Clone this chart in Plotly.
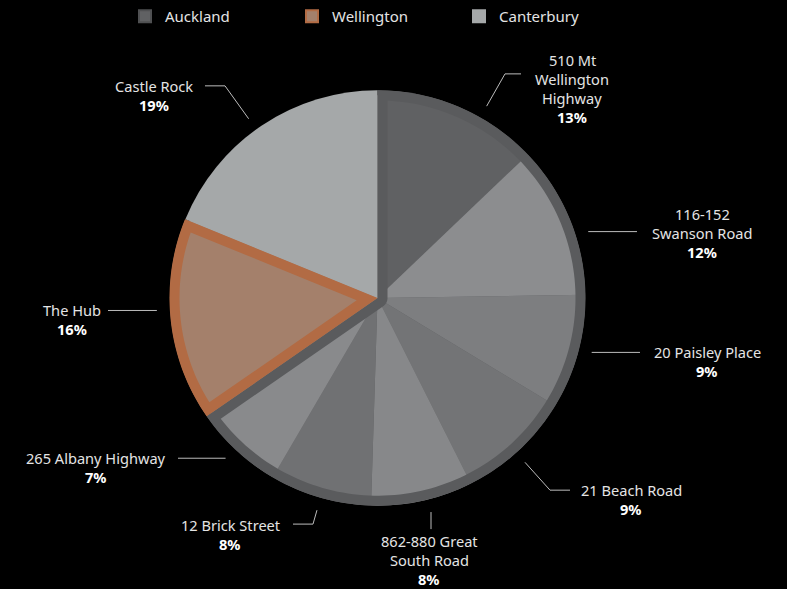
import math
import plotly.graph_objects as go

# ---------------- data ----------------
sites = [
    "510 Mt Wellington Highway", "116-152 Swanson Road", "20 Paisley Place",
    "21 Beach Road", "862-880 Great South Road", "12 Brick Street",
    "265 Albany Highway", "The Hub", "Castle Rock",
]
site_text = [
    "510 Mt<br>Wellington<br>Highway", "116-152<br>Swanson Road", "20 Paisley Place",
    "21 Beach Road", "862-880 Great<br>South Road", "12 Brick Street",
    "265 Albany Highway", "The Hub", "Castle Rock",
]
shares = [13, 12, 9, 9, 8, 8, 7, 16, 19]
site_region = ["Auckland"] * 7 + ["Wellington", "Canterbury"]
regions = ["Auckland", "Wellington", "Canterbury"]

# ---------------- styling ----------------
W, H = 787, 589
CX, CY, R = 377.5, 297.5, 208.0   # pie centre and radius (px)
RIM = 10.0                        # width of the region outline drawn inside the pie
LEADER_R = R + 13                 # where leader lines begin
LABEL_SIZE = 14.6
LINE_H = 19.0                     # label line spacing (px)

slice_colors = ["#606163", "#8c8d8f", "#7d7e80", "#737476", "#87888a",
                "#707173", "#898a8c", "#a4806b", "#a5a8a9"]
region_fill = {"Auckland": "#606163", "Wellington": "#a4806b", "Canterbury": "#a5a8a9"}
region_edge = {"Auckland": "#5a5b5d", "Wellington": "#b26b44", "Canterbury": "#a5a8a9"}
legend_edge = {"Auckland": "#4f5052", "Wellington": "#b26b44", "Canterbury": "#a5a8a9"}
TEXT = "#e4e4e4"
LEADER = "#bcbcbc"
FONT = "Noto Sans"

# label placement: block centre, leader kind and anchor points (px)
label_pos = [
    (572, 87.5), (702, 232.5), (707, 361), (631, 499), (429.5, 560),
    (230.5, 534.5), (95.5, 467), (71.5, 319.5), (154, 94.5),
]
leader_kind = ["elbow", "h", "h", "elbow", "v", "elbow", "h", "h", "elbow"]
leader_end = [(521, 73), (637, 231), (640, 352), (570, 490), (431, 529),
              (293, 524), (178, 458), (108, 310), (205, 85)]
leader_elbow = [(505, 73), None, None, (550, 490), None,
                (313, 524), None, None, (225, 85)]


def px(x, y):
    """pixel -> paper coordinates"""
    return x / W, 1 - y / H


def unit(theta):
    t = math.radians(theta)
    return math.sin(t), -math.cos(t)


def path_str(pts):
    parts = []
    for i, (x, y) in enumerate(pts):
        a, b = px(x, y)
        parts.append(("M" if i == 0 else "L") + f"{a:.5f},{b:.5f}")
    return " ".join(parts) + " Z"


def arc(r, t0, t1, ox=CX, oy=CY, n=None):
    n = n or max(4, int(abs(t1 - t0) / 1.5))
    out = []
    for k in range(n + 1):
        t = t0 + (t1 - t0) * k / n
        ux, uy = unit(t)
        out.append((ox + r * ux, oy + r * uy))
    return out


def inner_outline(t0, t1):
    """region of the sector [t0, t1] lying within RIM of its edge"""
    outer = [(CX, CY)] + arc(R, t0, t1)
    span = t1 - t0
    r_in = R - RIM
    u0, u1 = unit(t0), unit(t1)
    if span < 180:
        d = RIM / math.sin(math.radians(span / 2))
        mx, my = unit((t0 + t1) / 2)
        ax, ay = CX + d * mx, CY + d * my

        def hit(ux, uy):
            bx, by = ax - CX, ay - CY
            pb = bx * ux + by * uy
            t = -pb + math.sqrt(pb * pb - (bx * bx + by * by - r_in * r_in))
            return ax + t * ux, ay + t * uy

        p0, p1 = hit(*u0), hit(*u1)
        a0 = math.degrees(math.atan2(p0[0] - CX, -(p0[1] - CY)))
        a1 = math.degrees(math.atan2(p1[0] - CX, -(p1[1] - CY)))
        if a1 < a0:
            a1 += 360
        inner = [(ax, ay)] + arc(r_in, a0, a1)
    else:
        n0, n1 = unit(t0 + 90), unit(t1 - 90)
        te = math.sqrt(r_in ** 2 - RIM ** 2)
        s0 = (CX + RIM * n0[0], CY + RIM * n0[1])
        e0 = (s0[0] + te * u0[0], s0[1] + te * u0[1])
        s1 = (CX + RIM * n1[0], CY + RIM * n1[1])
        e1 = (s1[0] + te * u1[0], s1[1] + te * u1[1])
        a0 = t0 + math.degrees(math.atan2(RIM, te))
        a1 = t1 - math.degrees(math.atan2(RIM, te))
        inner = [s0, e0] + arc(r_in, a0, a1)[1:-1] + [e1, s1] + arc(RIM, t1 - 90, t0 + 90)[1:-1]
    return path_str(outer) + " " + path_str(inner)


total = sum(shares)
cum = [0]
for v in shares:
    cum.append(cum[-1] + v)
angles = [360 * c / total for c in cum]

dom_x = [(CX - R) / W, (CX + R) / W]
dom_y = [1 - (CY + R) / H, 1 - (CY - R) / H]

region_values = [sum(v for v, g in zip(shares, site_region) if g == r) for r in regions]

fig = go.Figure()

# legend entries (drawn underneath and hidden by the slices)
fig.add_trace(go.Pie(
    labels=regions, values=region_values, sort=False, direction="clockwise",
    domain=dict(x=[(CX - R + 6) / W, (CX + R - 6) / W], y=[1 - (CY + R - 6) / H, 1 - (CY - R + 6) / H]),
    marker=dict(colors=[region_fill[r] for r in regions],
                line=dict(color=[legend_edge[r] for r in regions], width=2)),
    textinfo="none", hoverinfo="skip", showlegend=True,
))

# the sites
fig.add_trace(go.Pie(
    labels=sites, values=shares, sort=False, direction="clockwise", rotation=0,
    domain=dict(x=dom_x, y=dom_y),
    marker=dict(colors=slice_colors, line=dict(width=0)),
    textinfo="none", hoverinfo="label+value", showlegend=False,
))

shapes = []
# region outlines, painted inside each region
for r in regions:
    idx = [i for i, g in enumerate(site_region) if g == r]
    t0, t1 = angles[idx[0]], angles[idx[-1] + 1]
    if region_edge[r] == region_fill[r]:
        continue
    shapes.append(dict(type="path", xref="paper", yref="paper", layer="above",
                       path=inner_outline(t0, t1), fillcolor=region_edge[r],
                       fillrule="evenodd", line=dict(width=0)))

# leader lines
for kind, end, elbow in zip(leader_kind, leader_end, leader_elbow):
    tx, ty = end
    if kind == "h":
        dx = math.sqrt(LEADER_R ** 2 - (ty - CY) ** 2)
        sx = CX + dx if tx > CX else CX - dx
        pts = [(sx, ty), (tx, ty)]
    elif kind == "v":
        dy = math.sqrt(LEADER_R ** 2 - (tx - CX) ** 2)
        sy = CY + dy if ty > CY else CY - dy
        pts = [(tx, sy), (tx, ty)]
    else:
        ex, ey = elbow
        L = math.hypot(ex - CX, ey - CY)
        sx = CX + (ex - CX) * LEADER_R / L
        sy = CY + (ey - CY) * LEADER_R / L
        pts = [(sx, sy), (ex, ey), (tx, ty)]
    p = " ".join(("M" if i == 0 else "L") + "{:.5f},{:.5f}".format(*px(*q)) for i, q in enumerate(pts))
    shapes.append(dict(type="path", xref="paper", yref="paper", layer="above",
                       path=p, line=dict(color=LEADER, width=1)))

# labels, one annotation per text line so the spacing can be set
annotations = []
for txt, v, (lx, ly) in zip(site_text, shares, label_pos):
    lines = txt.split("<br>") + [f"<b>{v}%</b>"]
    n = len(lines)
    for k, line in enumerate(lines):
        yy = ly + (k - (n - 1) / 2) * LINE_H
        ax_, ay_ = px(lx, yy)
        annotations.append(dict(
            x=ax_, y=ay_, xref="paper", yref="paper", xanchor="center", yanchor="middle",
            align="center", showarrow=False, text=line, borderpad=0,
            font=dict(family=FONT, size=LABEL_SIZE, color="#ffffff" if k == n - 1 else TEXT),
        ))

fig.update_layout(
    width=W, height=H,
    margin=dict(l=0, r=0, t=0, b=0),
    paper_bgcolor="#000000", plot_bgcolor="#000000",
    shapes=shapes, annotations=annotations,
    font=dict(family=FONT, size=15, color=TEXT),
    legend=dict(orientation="h", x=125 / W, y=1.002, xanchor="left", yanchor="top",
                entrywidth=122, entrywidthmode="pixels", traceorder="normal",
                font=dict(family=FONT, size=15, color=TEXT), bgcolor="rgba(0,0,0,0)",
                itemclick=False, itemdoubleclick=False),
)

fig.write_html("out.html")
